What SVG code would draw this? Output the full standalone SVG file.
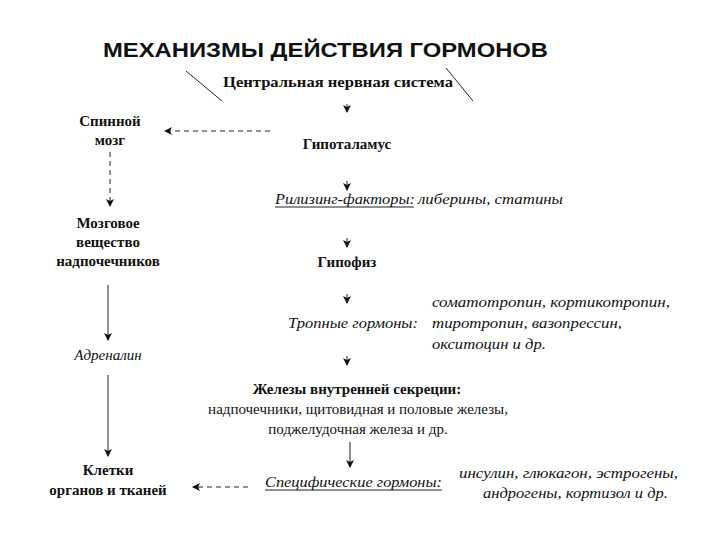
<svg xmlns="http://www.w3.org/2000/svg" width="720" height="540" viewBox="0 0 720 540">
<style>
text{font-family:"Liberation Serif","DejaVu Serif",serif;font-size:15px;fill:#111}
.b{font-weight:bold}.i{font-style:italic}.m{text-anchor:middle}
.d{stroke:#222;stroke-width:1;stroke-dasharray:5,4;fill:none}
.s{stroke:#222;stroke-width:1;fill:none}
</style>
<defs><marker id="a" markerWidth="8" markerHeight="8" refX="7" refY="4" orient="auto" markerUnits="userSpaceOnUse"><path d="M0,0L8,4L0,8L2,4z" fill="#111"/></marker></defs>
<text x="103" y="57" textLength="445" lengthAdjust="spacingAndGlyphs" style="font-family:'Liberation Sans',Arial,sans-serif;font-size:21px;font-weight:bold">МЕХАНИЗМЫ ДЕЙСТВИЯ ГОРМОНОВ</text>
<g id="connectors">
<path class="s" d="M186,71L222,101M446,68L473,101"/>
<path class="d" d="M270,131L165,131" marker-end="url(#a)"/>
<path class="d" d="M110,152L110,206" marker-end="url(#a)"/>
<path class="s" d="M108,285L108,340" marker-end="url(#a)"/>
<path class="s" d="M108,375L108,456" marker-end="url(#a)"/>
<path class="d" d="M248,487L193,487" marker-end="url(#a)"/>
<path class="s" d="M347,104L347,112" marker-end="url(#a)"/>
<path class="s" d="M347,181L347,190" marker-end="url(#a)"/>
<path class="s" d="M347,238L347,247" marker-end="url(#a)"/>
<path class="s" d="M347,294L347,303" marker-end="url(#a)"/>
<path class="s" d="M347,356L347,365" marker-end="url(#a)"/>
<path class="s" d="M350,442L350,467" marker-end="url(#a)"/>
</g>
<g id="cns"><text x="223" y="87" textLength="230" lengthAdjust="spacingAndGlyphs" class="b">Центральная нервная система</text></g>
<g id="spinal"><text x="110" y="126" class="b m">Спинной</text><text x="110" y="145" class="b m">мозг</text></g>
<g id="hypothalamus"><text x="347" y="149" class="b m">Гипоталамус</text></g>
<g id="releasing"><text x="275" y="204" textLength="140" lengthAdjust="spacingAndGlyphs" class="i">Рилизинг-факторы:</text><path class="s" d="M275,207L414,207"/><text x="418" y="204" textLength="145" lengthAdjust="spacingAndGlyphs" class="i">либерины, статины</text></g>
<g id="adrenal"><text x="108" y="228" class="b m">Мозговое</text><text x="108" y="247" class="b m">вещество</text><text x="108" y="266" class="b m">надпочечников</text></g>
<g id="pituitary"><text x="347" y="267" class="b m">Гипофиз</text></g>
<g id="tropic"><text x="288" y="328" textLength="130" lengthAdjust="spacingAndGlyphs" class="i">Тропные гормоны:</text>
<text x="432" y="307" textLength="238" lengthAdjust="spacingAndGlyphs" class="i">соматотропин, кортикотропин,</text><text x="432" y="328" textLength="190" lengthAdjust="spacingAndGlyphs" class="i">тиротропин, вазопрессин,</text><text x="432" y="349" textLength="114" lengthAdjust="spacingAndGlyphs" class="i">окситоцин и др.</text></g>
<g id="adrenaline"><text x="108" y="360" class="i m">Адреналин</text></g>
<g id="glands"><text x="357" y="394" class="b m">Железы внутренней секреции:</text><text x="358" y="414" class="m">надпочечники, щитовидная и половые железы,</text><text x="358" y="434" class="m">поджелудочная железа и др.</text></g>
<g id="cells"><text x="108" y="475" class="b m">Клетки</text><text x="108" y="495" class="b m">органов и тканей</text></g>
<g id="specific"><text x="265" y="487" textLength="177" lengthAdjust="spacingAndGlyphs" class="i">Специфические гормоны:</text><path class="s" d="M265,490L442,490"/>
<text x="459" y="478" textLength="219" lengthAdjust="spacingAndGlyphs" class="i">инсулин, глюкагон, эстрогены,</text><text x="483" y="498" textLength="185" lengthAdjust="spacingAndGlyphs" class="i">андрогены, кортизол и др.</text></g>
</svg>
